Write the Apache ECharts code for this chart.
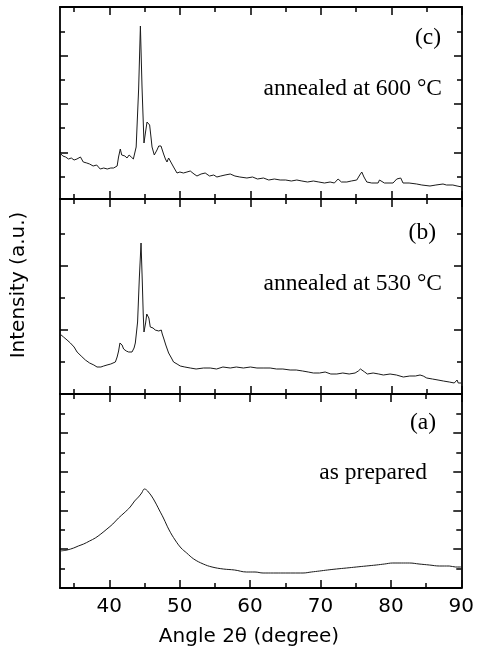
<!DOCTYPE html>
<html><head><meta charset="utf-8">
<script src="https://cdn.jsdelivr.net/npm/echarts@6/dist/echarts.min.js"></script>
<style>html,body{margin:0;padding:0;background:#fff}#c{width:477px;height:653px}</style>
</head><body><div id="c"></div>
<script>
// Angle 2θ tick values
const angleMajorTicks = [40, 50, 60, 70, 80, 90];
const angleMinorTicks = [35, 45, 55, 65, 75, 85];
const angleMin = 33, angleMax = 90;

// (c) annealed at 600 °C : [angle, intensity a.u.]
const panelC = [[33.0,46],[33.4,43],[33.8,42],[34.2,40],[34.6,41],[35.0,39],[35.4,40],[35.9,42],[36.3,37],[36.8,36],[37.2,35],[37.7,33],[38.2,34],[38.7,30],[39.2,31],[39.7,30],[40.2,31],[40.6,31],[41.1,33],[41.3,42],[41.55,50],[41.75,44],[41.95,42],[42.2,43],[42.5,41],[42.8,44],[43.1,42],[43.4,40],[43.8,52],[44.15,110],[44.4,173],[44.63,112],[44.91,56],[45.15,68],[45.34,77],[45.5,76],[45.71,74],[45.9,62],[46.05,52],[46.37,44],[46.75,49],[47.0,53],[47.32,53],[47.5,51],[47.69,45],[47.95,40],[48.17,37],[48.4,41],[48.64,42],[49.1,32],[49.59,26],[50.0,27],[50.5,26],[51.0,27],[51.47,28],[52.0,25],[52.42,23],[53.0,25],[53.59,26],[54.2,23],[54.8,24],[55.25,22],[55.8,23],[56.4,24],[57.14,25],[57.8,23],[58.5,22],[59.5,21],[60.3,22],[61.0,20],[61.85,21],[62.6,19],[63.4,20],[64.22,19],[65.0,19],[65.8,18],[66.58,19],[67.3,18],[68.1,17],[68.93,18],[69.7,17],[70.5,16],[71.3,17],[71.9,16],[72.43,20],[72.9,17],[73.67,17],[74.3,18],[75.08,19],[75.5,24],[75.79,27],[76.1,22],[76.5,17],[77.2,16],[78.1,16],[78.3,19],[79.0,16],[80.22,16],[80.75,20],[81.0,18],[81.31,21],[81.64,16],[82.5,16],[83.58,15],[84.3,14],[85.46,13],[86.3,14],[87.31,15],[87.8,14],[88.7,14],[89.3,13],[90.0,12]];

// (b) annealed at 530 °C
const panelB = [[33.0,60],[33.5,57],[34.0,54],[34.47,51],[35.0,47],[35.42,42],[36.0,38],[36.6,34],[37.2,31],[37.8,29],[38.25,27],[38.8,27],[39.2,28],[39.67,29],[40.2,30],[40.85,32],[41.1,37],[41.31,43],[41.5,51],[41.65,53],[41.8,49],[42.02,45],[42.4,43],[42.73,42],[43.0,41],[43.21,42],[43.5,46],[43.68,51],[43.85,62],[44.0,72],[44.25,116],[44.49,151],[44.67,112],[44.8,80],[44.91,62],[45.14,71],[45.3,80],[45.42,82],[45.6,76],[45.8,67],[46.0,65],[46.19,66],[46.5,64],[46.75,64],[47.0,63],[47.36,64],[47.5,60],[47.69,56],[48.0,49],[48.4,41],[48.8,36],[49.1,32],[49.6,30],[50.05,28],[50.7,27],[51.47,26],[52.3,25],[53.35,26],[54.3,26],[55.2,25],[56.1,27],[57.14,26],[58.0,27],[59.0,26],[60.0,27],[60.92,26],[61.8,26],[62.8,26],[63.7,25],[64.6,25],[65.63,24],[66.5,24],[67.4,23],[68.2,22],[68.93,21],[69.8,21],[70.6,22],[71.4,20],[72.25,20],[73.1,21],[74.0,20],[74.84,21],[75.3,23],[75.6,25],[75.88,27],[76.2,22],[76.58,20],[77.4,21],[78.2,20],[78.85,19],[79.8,20],[80.7,19],[81.68,17],[82.6,18],[83.4,18],[84.05,19],[84.5,18],[85.0,16],[85.8,15],[86.6,14],[87.35,13],[88.2,12],[88.9,11],[89.3,14],[89.47,11],[90.0,11]];

// (a) as prepared
const panelA = [[33.0,37],[34.0,38],[34.94,40],[35.6,42],[36.36,44],[37.2,47],[38.01,50],[38.8,54],[39.67,59],[40.5,64],[41.31,70],[42.1,75],[42.97,81],[43.6,87],[44.15,91],[44.6,95],[45.0,99],[45.3,98],[45.56,96],[46.0,92],[46.51,86],[47.1,78],[47.69,70],[48.5,58],[49.35,48],[50.2,40],[51.0,35],[52.0,29],[53.35,24],[54.6,21],[56.19,19],[57.8,18],[59.5,16],[60.7,16],[61.85,15],[63.3,15],[64.69,15],[66.1,15],[67.52,15],[68.7,16],[69.88,17],[71.0,18],[72.25,19],[73.7,20],[75.08,21],[76.5,22],[77.92,23],[79.1,24],[80.27,25],[81.5,25],[82.63,25],[84.0,24],[85.46,23],[86.9,22],[88.29,22],[89.2,21],[89.95,21]];

// intensity axis extents and ticks per panel (top, middle, bottom)
const intensityMax = [192, 195, 194];
const intensityMajorTicks = [[46, 95, 143], [64, 128], [39, 77, 116, 155]];
const intensityMinorTicks = [[22, 71, 119, 167], [32, 96, 160], [19, 58, 96, 135, 174]];

const panelTags = ['(c)', '(b)', '(a)'];
const panelNotes = ['annealed at 600 °C', 'annealed at 530 °C', 'as prepared'];
const xTitle = 'Angle 2θ (degree)';
const yTitle = 'Intensity (a.u.)';

const panels = [panelC, panelB, panelA];
const grids = [
  {left: 60, right: 15, top: 7, height: 192},
  {left: 60, right: 15, top: 199, height: 195},
  {left: 60, right: 15, top: 394, height: 194}
];

const axisLineStyle = {color: '#000', width: 1.8};
const tickLineStyle = {color: '#000', width: 1.5};
const sans = '"DejaVu Sans", sans-serif';
const serif = '"Liberation Serif", "Times New Roman", serif';

const xAxes = [], yAxes = [], series = [];
panels.forEach((data, gi) => {
  const isBottom = gi === 2;
  [['bottom', true], ['top', true], ['bottom', false], ['top', false]].forEach(([pos, major]) => {
    xAxes.push({
      type: 'value', gridIndex: gi, position: pos, min: angleMin, max: angleMax,
      axisLine: {show: major, onZero: false, lineStyle: axisLineStyle},
      axisTick: {show: true, inside: true, length: major ? 8 : 5,
        customValues: major ? angleMajorTicks : angleMinorTicks, lineStyle: tickLineStyle},
      axisLabel: {show: isBottom && pos === 'bottom' && major, customValues: angleMajorTicks,
        fontFamily: sans, fontSize: 20, color: '#000', margin: 9},
      splitLine: {show: false}
    });
  });
  [['left', true], ['right', true], ['left', false], ['right', false]].forEach(([pos, major]) => {
    yAxes.push({
      type: 'value', gridIndex: gi, position: pos, min: 0, max: intensityMax[gi],
      axisLine: {show: major, onZero: false, lineStyle: axisLineStyle},
      axisTick: {show: true, inside: true, length: major ? 8 : 5,
        customValues: major ? intensityMajorTicks[gi] : intensityMinorTicks[gi], lineStyle: tickLineStyle},
      axisLabel: {show: false},
      splitLine: {show: false}
    });
  });
  series.push({
    type: 'line', xAxisIndex: gi * 4, yAxisIndex: gi * 4, data: data,
    showSymbol: false, symbol: 'none', smooth: gi === 2 ? 0.4 : false,
    lineStyle: {color: '#1a1a1a', width: 1}, animation: false
  });
});

const textPos = [
  {tag: [441, 38], note: [442, 89]},
  {tag: [436, 233], note: [442, 284]},
  {tag: [436, 423], note: [427, 473]}
];
const graphics = [];
textPos.forEach((p, i) => {
  graphics.push({type: 'text', x: p.tag[0], y: p.tag[1],
    style: {text: panelTags[i], fontFamily: serif, fontSize: 23.5, fill: '#000', align: 'right', verticalAlign: 'middle'}});
  graphics.push({type: 'text', x: p.note[0], y: p.note[1],
    style: {text: panelNotes[i], fontFamily: serif, fontSize: 23.5, fill: '#000', align: 'right', verticalAlign: 'middle'}});
});
graphics.push({type: 'text', x: 19, y: 285, rotation: Math.PI / 2,
  style: {text: yTitle, fontFamily: sans, fontSize: 20, fill: '#000', align: 'center', verticalAlign: 'middle'}});
graphics.push({type: 'text', x: 249, y: 637,
  style: {text: xTitle, fontFamily: sans, fontSize: 20, fill: '#000', align: 'center', verticalAlign: 'middle'}});

const chart = echarts.init(document.getElementById('c'), null, {renderer: 'canvas'});
chart.setOption({
  animation: false,
  backgroundColor: '#fff',
  grid: grids,
  xAxis: xAxes,
  yAxis: yAxes,
  series: series,
  graphic: graphics
});
</script></body></html>
